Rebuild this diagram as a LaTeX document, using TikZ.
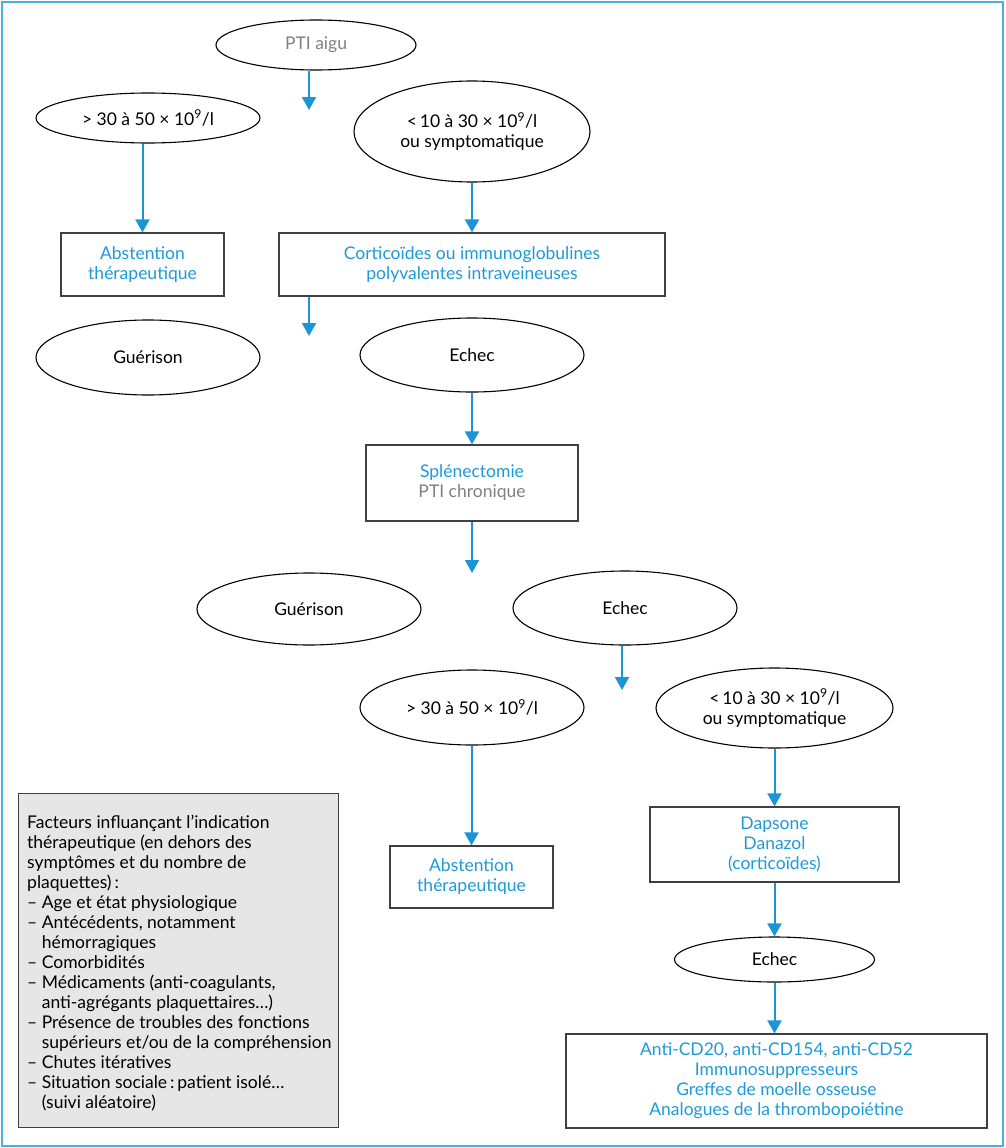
\documentclass[tikz,border=0pt]{standalone}
\usepackage{fontspec}
\setmainfont{Lato}
\usetikzlibrary{shapes.geometric,arrows.meta}
\definecolor{tblue}{HTML}{1E9AD6}
\definecolor{ablue}{HTML}{1B95D6}
\definecolor{fblue}{HTML}{4AB0E0}
\definecolor{tgray}{HTML}{808080}
\definecolor{gfill}{HTML}{E6E6E6}
\definecolor{gline}{HTML}{404040}
\begin{document}
\begin{tikzpicture}[x=1pt,y=-1pt,
  every node/.style={font=\fontsize{17.5}{20}\selectfont, inner sep=0pt, align=center},
  ell/.style={ellipse, draw=black, line width=1.1pt},
  bx/.style={rectangle, draw=gline, line width=1.2pt, text=tblue},
  arr/.style={draw=ablue, line width=2pt, -{Triangle[width=14pt,length=13pt]}}]
\useasboundingbox (0,0) rectangle (1006,1148);
\draw[fblue, line width=2pt] (2,2) rectangle (1003,1146);

\node[ell, minimum width=200pt, minimum height=50pt, text=tgray] (pti) at (316,45) {PTI aigu};
\coordinate (f1) at (309,110);
\node[ell, minimum width=224pt, minimum height=50pt] (e30a) at (148,118) {> 30 à 50 × 10\textsuperscript{9}/l};
\node[ell, minimum width=236pt, minimum height=101pt] (e10a) at (472,131.5) {<\,10 à 30 × 10\textsuperscript{9}/l\\ ou symptomatique};
\node[bx, minimum width=163pt, minimum height=63pt] (abs1) at (142.5,264.5) {Abstention\\ thérapeutique};
\node[bx, minimum width=386pt, minimum height=63pt] (cort) at (472,264.5) {Corticoïdes ou immunoglobulines\\ polyvalentes intraveineuses};
\coordinate (f2) at (309,336);
\node[ell, minimum width=224pt, minimum height=75pt] (gue1) at (148,357.5) {Guérison};
\node[ell, minimum width=224pt, minimum height=74pt] (ech1) at (472,355) {Echec};
\node[bx, minimum width=212pt, minimum height=76pt] (splen) at (472,483) {Splénectomie\\ \textcolor{tgray}{PTI chronique}};
\coordinate (f3) at (472,573);
\node[ell, minimum width=224pt, minimum height=72pt] (gue2) at (309,609) {Guérison};
\node[ell, minimum width=224pt, minimum height=74pt] (ech2) at (625,608) {Echec};
\coordinate (f4) at (622,690);
\node[ell, minimum width=224pt, minimum height=75pt] (e30b) at (472,707.5) {> 30 à 50 × 10\textsuperscript{9}/l};
\node[ell, minimum width=237pt, minimum height=80pt] (e10b) at (774.5,708) {<\,10 à 30 × 10\textsuperscript{9}/l\\ ou symptomatique};
\node[bx, minimum width=163pt, minimum height=62pt] (abs2) at (471.5,877) {Abstention\\ thérapeutique};
\node[bx, minimum width=249pt, minimum height=75pt] (dap) at (774.5,844.5) {Dapsone\\ Danazol\\ (corticoïdes)};
\node[ell, minimum width=200pt, minimum height=45pt] (ech3) at (774.5,959.5) {Echec};
\node[bx, minimum width=421pt, minimum height=94pt] (anti) at (776.5,1081) {Anti-CD20, anti-CD154, anti-CD52\\ Immunosuppresseurs\\ Greffes de moelle osseuse\\ Analogues de la thrombopoiétine};

\node[rectangle, draw=gline, line width=1.2pt, fill=gfill, anchor=north west,
  minimum width=320pt, minimum height=334pt] (fact) at (18,793) {};
\node[anchor=west, align=left] (facttxt) at ([xshift=9pt,yshift=-2pt]fact.west)
{Facteurs influançant l’indication\\
thérapeutique (en dehors des\\
symptômes et du nombre de\\
plaquettes)\,:\\
– Age et état physiologique\\
– Antécédents, notamment\\
\phantom{– }hémorragiques\\
– Comorbidités\\
– Médicaments (anti-coagulants,\\
\phantom{– }anti-agrégants plaquettaires…)\\
– Présence de troubles des fonctions\\
\phantom{– }supérieurs et/ou de la compréhension\\
– Chutes itératives\\
– Situation sociale\,:\,patient isolé…\\
\phantom{– }(suivi aléatoire)};

\draw[arr] (pti.south -| f1) -- (f1);
\draw[arr] (e30a.south -| abs1.north) -- (abs1.north);
\draw[arr] (e10a.south) -- (cort.north);
\draw[arr] (cort.south -| f2) -- (f2);
\draw[arr] (ech1.south) -- (splen.north);
\draw[arr] (splen.south) -- (f3);
\draw[arr] (ech2.south -| f4) -- (f4);
\draw[arr] (e30b.south -| abs2.north) -- (abs2.north);
\draw[arr] (e10b.south) -- (dap.north);
\draw[arr] (dap.south) -- (ech3.north);
\draw[arr] (ech3.south) -- (ech3.south |- anti.north);
\end{tikzpicture}
\end{document}
